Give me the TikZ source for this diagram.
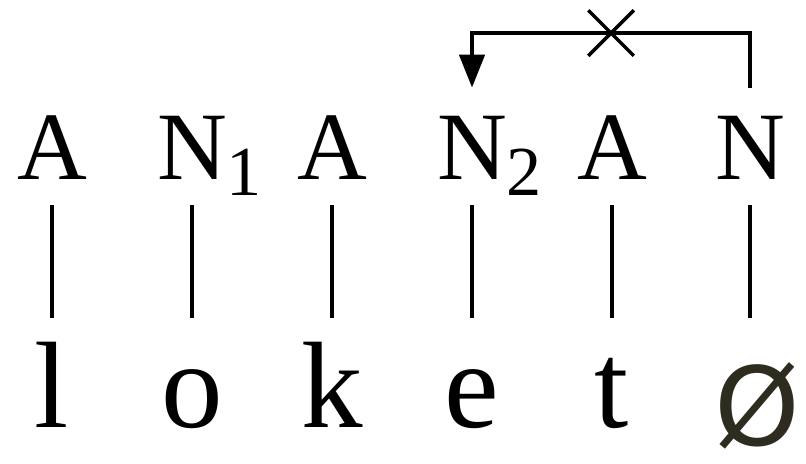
\documentclass[tikz,border=0pt]{standalone}
\usepackage{fontspec}
\setmainfont{Liberation Serif}
\usepackage{tikz}
\usetikzlibrary{arrows.meta,shapes.misc,calc}
\newfontfamily\emptysetfont{DejaVu Sans}
\definecolor{nullink}{HTML}{2E2B1F}
\newcommand{\idx}[1]{\rlap{\raisebox{-0.32cm}{\fontsize{40}{44}\selectfont #1}}}

\begin{document}
\begin{tikzpicture}[
  cat/.style={font=\fontsize{55}{62}\selectfont, inner sep=0pt, anchor=base,
              text height=1.82cm, text depth=0.52cm},
  seg/.style={font=\fontsize{70}{78}\selectfont, inner sep=0pt, anchor=base,
              text height=2.18cm},
  tie/.style={line width=2pt},
  arr/.style={-{Triangle[length=6.6mm,width=5mm]}, line width=2.6pt},
  blocked/.style={draw, cross out, line width=2pt, minimum size=8.4mm, inner sep=0pt}
]
\useasboundingbox (0,0) rectangle (16.12,-9.26);
% category row
\node[cat] (t1) at (1.04,-3.58) {A};
\node[cat] (t2) at (3.84,-3.58) {N\idx{1}};
\node[cat] (t3) at (6.64,-3.58) {A};
\node[cat] (t4) at (9.44,-3.58) {N\idx{2}};
\node[cat] (t5) at (12.24,-3.58) {A};
\node[cat] (t6) at (15.00,-3.58) {N};
% segment row
\node[seg] (b1) at (1.04,-8.54) {l};
\node[seg] (b2) at (3.84,-8.54) {o};
\node[seg] (b3) at (6.64,-8.54) {k};
\node[seg] (b4) at (9.44,-8.54) {e};
\node[seg] (b5) at (12.24,-8.54) {t};
\node[seg, font=\emptysetfont\fontsize{62}{70}\selectfont, text=nullink,
      text height=2.54cm] (b6) at (15.14,-8.90) {Ø};
% association lines
\draw[tie] (t1.south) -- (b1.north);
\draw[tie] (t2.south) -- (b2.north);
\draw[tie] (t3.south) -- (b3.north);
\draw[tie] (t4.south) -- (b4.north);
\draw[tie] (t5.south) -- (b5.north);
\draw[tie] (t6.south) -- (t6.south |- b6.north);
% blocked link
\coordinate (rail) at (0,-0.66);
\draw[arr] (t6.north) |- (t4.north |- rail) -- (t4.north);
\node[blocked] (x) at ($(t4.north |- rail)!0.5!(t6.north |- rail)$) {};
\end{tikzpicture}
\end{document}
